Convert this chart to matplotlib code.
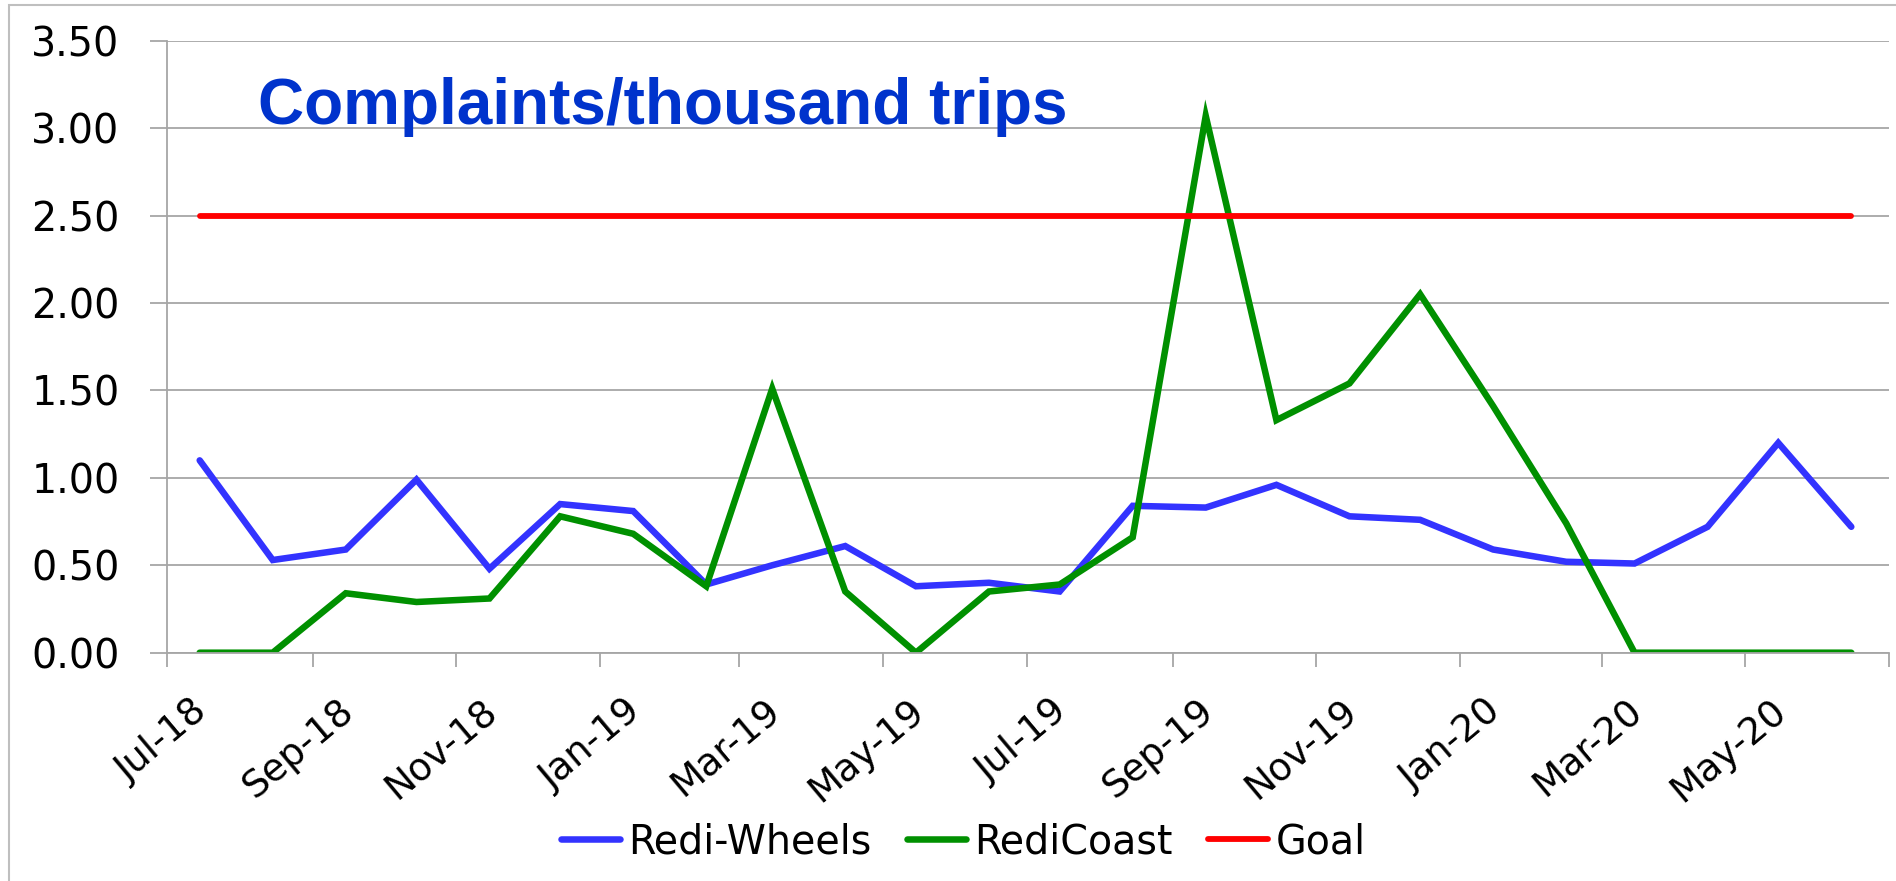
import pandas as pd
import matplotlib
matplotlib.use('Agg')
import matplotlib.pyplot as plt
from matplotlib.transforms import ScaledTranslation
from matplotlib.patches import Rectangle

# monthly complaints per thousand trips, Jul-18 .. Jun-20
months = ['Jul-18', 'Aug-18', 'Sep-18', 'Oct-18', 'Nov-18', 'Dec-18',
          'Jan-19', 'Feb-19', 'Mar-19', 'Apr-19', 'May-19', 'Jun-19',
          'Jul-19', 'Aug-19', 'Sep-19', 'Oct-19', 'Nov-19', 'Dec-19',
          'Jan-20', 'Feb-20', 'Mar-20', 'Apr-20', 'May-20', 'Jun-20']
redi_wheels = [1.10, 0.53, 0.59, 0.99, 0.48, 0.85, 0.81, 0.39, 0.50, 0.61, 0.38, 0.40,
               0.35, 0.84, 0.83, 0.96, 0.78, 0.76, 0.59, 0.52, 0.51, 0.72, 1.20, 0.72]
redi_coast = [0.00, 0.00, 0.34, 0.29, 0.31, 0.78, 0.68, 0.38, 1.51, 0.35, 0.00, 0.35,
              0.39, 0.66, 3.07, 1.33, 1.54, 2.05, 1.41, 0.74, 0.00, 0.00, 0.00, 0.00]
goal = [2.50, 2.50, 2.50, 2.50, 2.50, 2.50, 2.50, 2.50, 2.50, 2.50, 2.50, 2.50,
        2.50, 2.50, 2.50, 2.50, 2.50, 2.50, 2.50, 2.50, 2.50, 2.50, 2.50, 2.50]
tick_labels = ['Jul-18', 'Sep-18', 'Nov-18', 'Jan-19', 'Mar-19', 'May-19',
               'Jul-19', 'Sep-19', 'Nov-19', 'Jan-20', 'Mar-20', 'May-20', 'Jul-20']

plt.rcParams['font.family'] = ['DejaVu Sans']
plt.rcParams['font.size'] = 27

# points sit mid-month on a date axis
dates = (pd.to_datetime(months, format='%b-%y') + pd.Timedelta(days=14)).to_pydatetime()
tick_dates = pd.to_datetime(tick_labels, format='%b-%y').to_pydatetime()

fig = plt.figure(figsize=(18.96, 8.81), dpi=100)
ax = fig.add_axes([166.7 / 1896, 1 - 652.7 / 881, (1889 - 166.7) / 1896, (652.7 - 40.7) / 881])

ax.plot(dates, redi_wheels, color='#3333FF', lw=4.7, label='Redi-Wheels',
        solid_capstyle='round', solid_joinstyle='miter')
ax.plot(dates, redi_coast, color='#009000', lw=4.7, label='RediCoast',
        solid_capstyle='round', solid_joinstyle='miter')
ax.plot(dates, goal, color='#FF0000', lw=4.2, label='Goal', solid_capstyle='round')

ax.set_ylim(0, 3.5)
ax.set_yticks([0, 0.5, 1.0, 1.5, 2.0, 2.5, 3.0, 3.5])
ax.yaxis.set_major_formatter(matplotlib.ticker.FormatStrFormatter('%.2f'))
ax.set_xlim(tick_dates[0], tick_dates[-1])
ax.set_xticks(tick_dates)
ax.set_xticklabels(tick_labels[:-1] + [''])

grid_col = '#A6A6A6'
ax.grid(axis='y', color=grid_col, lw=1.3)
ax.set_axisbelow(True)
for side in ['top', 'right']:
    ax.spines[side].set_visible(False)
ax.spines['left'].set_color(grid_col)
ax.spines['bottom'].set_color(grid_col)
ax.spines['left'].set_linewidth(1.3)
ax.spines['bottom'].set_linewidth(1.3)
ax.tick_params(axis='y', length=12, width=1.3, color=grid_col, pad=22, labelsize=28.5)
ax.tick_params(axis='x', length=10, width=1.3, color=grid_col, pad=19, labelsize=27)

offset = ScaledTranslation(0.25, 0, fig.dpi_scale_trans)
for lbl in ax.get_xticklabels():
    lbl.set_rotation(40)
    lbl.set_ha('right')
    lbl.set_va('top')
    lbl.set_rotation_mode('anchor')
    lbl.set_transform(lbl.get_transform() + offset)

fig.text(258 / 1896, 1 - 124 / 881, 'Complaints/thousand trips', fontsize=46,
         fontweight='bold', family=['Liberation Sans', 'DejaVu Sans'],
         color='#0033CC', va='baseline')

fig.legend(loc='center', bbox_to_anchor=(0.508, 1 - 842 / 881), ncol=3, frameon=False,
           fontsize=28.5, handlelength=1.5, handletextpad=0.2, columnspacing=0.9)

# thin border of the chart area (only left/top visible)
fig.patches.append(Rectangle((9 / 1896, -0.1), 2, 1.1 - 5 / 881, transform=fig.transFigure,
                             fill=False, ec='#BFBFBF', lw=1.5))

fig.savefig('out.png', dpi=100)
